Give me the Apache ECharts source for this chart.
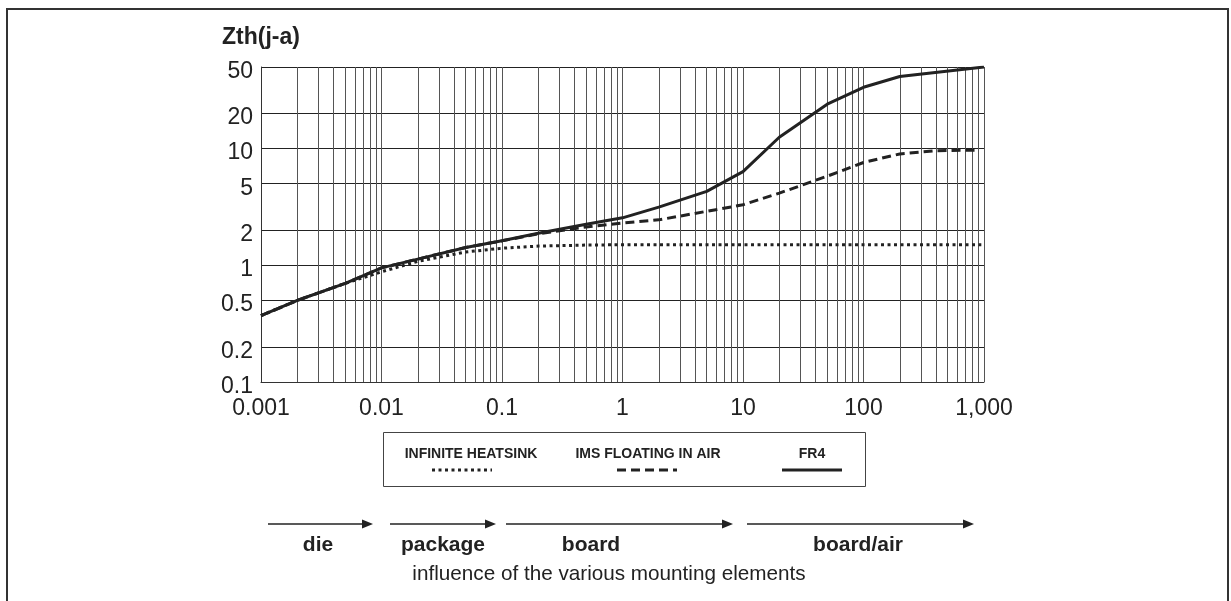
<!DOCTYPE html>
<html>
<head>
<meta charset="utf-8">
<script src="https://cdn.jsdelivr.net/npm/echarts@6/dist/echarts.min.js"></script>
<style>
  html, body { margin: 0; padding: 0; background: #fff; }
  #chart { width: 1231px; height: 601px; }
</style>
</head>
<body>
<div id="chart"></div>
<script>
// ---- data ----
const fr4X = [0.001, 0.002, 0.005, 0.01, 0.02, 0.05, 0.1, 0.2, 0.5, 1, 2, 5, 10, 20, 50, 100, 200, 1000];
const fr4Y = [0.37, 0.5, 0.7, 0.95, 1.13, 1.42, 1.62, 1.88, 2.25, 2.55, 3.15, 4.3, 6.35, 12.5, 24, 33.5, 41.5, 50];

const imsX = [0.001, 0.002, 0.005, 0.01, 0.02, 0.05, 0.1, 0.2, 0.5, 1, 2, 5, 10, 20, 50, 100, 200, 400, 850];
const imsY = [0.37, 0.5, 0.7, 0.95, 1.13, 1.42, 1.62, 1.86, 2.13, 2.3, 2.45, 2.9, 3.3, 4.15, 5.8, 7.6, 9.0, 9.6, 9.7];

const heatX = [0.001, 0.002, 0.005, 0.01, 0.02, 0.05, 0.1, 0.2, 0.5, 1, 10, 100, 950];
const heatY = [0.37, 0.5, 0.7, 0.88, 1.08, 1.3, 1.4, 1.46, 1.49, 1.5, 1.5, 1.5, 1.5];

const seriesNames = ['INFINITE HEATSINK', 'IMS FLOATING IN AIR', 'FR4'];

const xTickValues = [0.001, 0.01, 0.1, 1, 10, 100, 1000];
const xTickLabels = ['0.001', '0.01', '0.1', '1', '10', '100', '1,000'];
const yTickValues = [0.1, 0.2, 0.5, 1, 2, 5, 10, 20, 50];
const yTickLabels = ['0.1', '0.2', '0.5', '1', '2', '5', '10', '20', '50'];

const stageNames = ['die', 'package', 'board', 'board/air'];
const yAxisTitle = 'Zth(j-a)';
const bottomCaption = 'influence of the various mounting elements';

// x grid lines at 1..9 x each decade
const xGridValues = [];
for (let e = -3; e <= 2; e++) {
  for (let m = 1; m <= 9; m++) xGridValues.push(Number((m * Math.pow(10, e)).toPrecision(3)));
}
xGridValues.push(1000);

function pairs(xs, ys) { return xs.map((x, i) => [x, ys[i]]); }
function lookup(values, labels, v) {
  for (let i = 0; i < values.length; i++) {
    if (Math.abs(Math.log10(v) - Math.log10(values[i])) < 1e-6) return labels[i];
  }
  return '';
}

const FONT = 'Liberation Sans, Arial, Helvetica, sans-serif';
const INK = '#222';

// ---- layout helpers for decorations ----
const arrows = [[268, 373], [390, 496], [506, 733], [747, 974]];
const stageCenters = [318, 443, 591, 858];
const arrowY = 524;

const graphics = [];
// outer frame
graphics.push({ type: 'rect', shape: { x: 7, y: 9, width: 1221, height: 640 }, style: { fill: 'none', stroke: '#333', lineWidth: 2 }, silent: true });
// legend box
graphics.push({ type: 'rect', shape: { x: 383.5, y: 432.5, width: 482, height: 54 }, style: { fill: '#fff', stroke: '#444', lineWidth: 1 }, silent: true });
const legendTextX = [471, 648, 812];
const legendLineX = [[432, 492], [617, 677], [782, 842]];
const legendDash = [[3, 3.5], [9, 5], null];
seriesNames.forEach((n, i) => {
  graphics.push({ type: 'text', x: legendTextX[i], y: 454, style: { text: n, font: 'bold 14px ' + FONT, fill: INK, align: 'center', verticalAlign: 'middle' }, silent: true });
  graphics.push({ type: 'line', shape: { x1: legendLineX[i][0], y1: 470, x2: legendLineX[i][1], y2: 470 }, style: { stroke: INK, lineWidth: 3, lineDash: legendDash[i] }, silent: true });
});
// stage arrows
arrows.forEach((a, i) => {
  graphics.push({ type: 'line', shape: { x1: a[0], y1: arrowY, x2: a[1] - 8, y2: arrowY }, style: { stroke: INK, lineWidth: 1.5 }, silent: true });
  graphics.push({ type: 'polygon', shape: { points: [[a[1] - 11, arrowY - 4.5], [a[1], arrowY], [a[1] - 11, arrowY + 4.5]] }, style: { fill: INK }, silent: true });
  graphics.push({ type: 'text', x: stageCenters[i], y: 545, style: { text: stageNames[i], font: 'bold 21px ' + FONT, fill: INK, align: 'center', verticalAlign: 'middle' }, silent: true });
});
graphics.push({ type: 'text', x: 609, y: 574, style: { text: bottomCaption, font: '20.7px ' + FONT, fill: INK, align: 'center', verticalAlign: 'middle' }, silent: true });

const chart = echarts.init(document.getElementById('chart'), null, { renderer: 'canvas' });
chart.setOption({
  animation: false,
  backgroundColor: '#fff',
  textStyle: { fontFamily: FONT },
  grid: { left: 261, right: 247, top: 67, bottom: 219, containLabel: false },
  xAxis: {
    type: 'log', logBase: 10, min: 0.001, max: 1000,
    axisLine: { show: true, lineStyle: { color: '#333', width: 1 } },
    axisTick: { show: false, customValues: xGridValues },
    axisLabel: {
      customValues: xTickValues, margin: 15, fontSize: 23, color: INK, fontFamily: FONT,
      formatter: v => lookup(xTickValues, xTickLabels, v)
    },
    splitLine: { show: true, lineStyle: { color: '#555', width: 1 } }
  },
  yAxis: {
    type: 'log', logBase: 10, min: 0.1, max: 50,
    name: yAxisTitle, nameLocation: 'end', nameGap: 18,
    nameTextStyle: { fontSize: 23, fontWeight: 'bold', color: INK, fontFamily: FONT, align: 'center' },
    axisLine: { show: true, lineStyle: { color: '#333', width: 1 } },
    axisTick: { show: false, customValues: yTickValues },
    axisLabel: {
      customValues: yTickValues, margin: 8, color: INK, fontFamily: FONT,
      formatter: v => '{t|' + lookup(yTickValues, yTickLabels, v) + '}',
      rich: { t: { fontSize: 23, color: INK, fontFamily: FONT, padding: [9, 0, 0, 0] } }
    },
    splitLine: { show: true, lineStyle: { color: '#222', width: 1 } }
  },
  series: [
    { name: seriesNames[0], type: 'line', data: pairs(heatX, heatY), symbol: 'none', z: 3,
      lineStyle: { color: INK, width: 3, type: [3, 3.5] } },
    { name: seriesNames[1], type: 'line', data: pairs(imsX, imsY), symbol: 'none', z: 4,
      lineStyle: { color: INK, width: 3, type: [9, 5] } },
    { name: seriesNames[2], type: 'line', data: pairs(fr4X, fr4Y), symbol: 'none', z: 5,
      lineStyle: { color: INK, width: 3, type: 'solid' } }
  ],
  graphic: graphics
});
</script>
</body>
</html>
